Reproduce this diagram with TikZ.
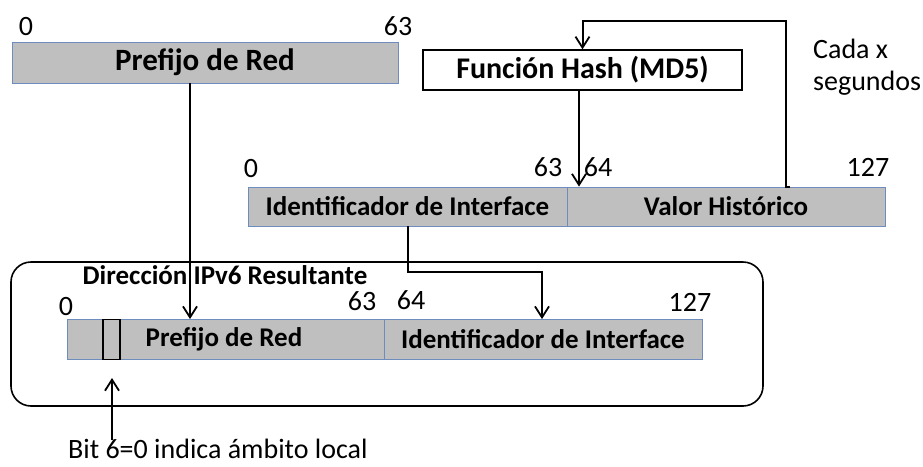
\documentclass[tikz,border=0pt]{standalone}
\usepackage{fontspec}
\setmainfont{Carlito}
\usetikzlibrary{arrows.meta}
\definecolor{bargray}{RGB}{191,191,191}
\definecolor{barblue}{RGB}{110,140,190}
\newcommand\fsTop{\fontsize{31}{36}\selectfont\bfseries}
\newcommand\fsHash{\fontsize{30}{35}\selectfont\bfseries}
\newcommand\fsBar{\fontsize{27}{32}\selectfont\bfseries}
\newcommand\fsTitle{\fontsize{27}{32}\selectfont\bfseries}
\newcommand\fsNum{\fontsize{28}{33}\selectfont}
\begin{document}
\begin{tikzpicture}[x=1pt,y=-1pt,
  bar/.style={draw=barblue, fill=bargray, line width=0.9pt, inner sep=0pt, font=\fsBar},
  hashbox/.style={draw=black, fill=white, line width=1.4pt, inner sep=0pt, font=\fsHash},
  bitbox/.style={draw=black, line width=1.4pt, inner sep=0pt, minimum width=17pt, minimum height=40pt},
  frame/.style={draw=black, line width=1.6pt, rounded corners=20pt},
  num/.style={font=\fsNum, anchor=base, inner sep=0pt},
  lbl/.style={font=\fsNum, anchor=base west, inner sep=0pt},
  arr/.style={draw=black, line width=2pt, -{Straight Barb[length=11pt,width=14pt,line width=1.8pt]}},
  ln/.style={draw=black, line width=2pt}]
\useasboundingbox (0,0) rectangle (923,466);

% result frame
\draw[frame] (11,262) rectangle (763,406);

% top prefix
\node[num] (t0) at (26,35) {0};
\node[num] (t63) at (398,35) {63};
\node[bar, font=\fsTop, minimum width=386pt, minimum height=41pt] (pref) at (205,62.5) {Prefijo de Red};

% hash
\node[hashbox, minimum width=319pt, minimum height=40pt] (hash) at (582.5,70) {Función Hash (MD5)};
\node[lbl] (cada) at (813,58) {Cada x};
\node[lbl] (seg) at (813,90) {segundos};

% middle bar
\node[num] (m0) at (251,177) {0};
\node[num] (m63) at (548,176) {63};
\node[num] (m64) at (598,176) {64};
\node[num] (m127) at (868,176) {127};
\node[bar, minimum width=319pt, minimum height=39pt] (idI) at (407.5,206.5) {Identificador de Interface};
\node[bar, minimum width=318pt, minimum height=39pt] (val) at (726,206.5) {Valor Histórico};

% result
\node[font=\fsTitle, anchor=base, inner sep=0pt] (title) at (225,284) {Dirección IPv6 Resultante};
\node[num] (r0) at (66,315) {0};
\node[num] (r63) at (362,310) {63};
\node[num] (r64) at (411,309) {64};
\node[num] (r127) at (690,311) {127};
\node[bar, minimum width=317pt, minimum height=40pt] (resP) at (225.5,339.5) {\hspace*{-3pt}Prefijo de Red};
\node[bar, minimum width=318pt, minimum height=40pt] (resI) at (543,339.5) {Identificador de Interface};
\node[bitbox] (bit) at (111.5,339.5) {};

% bit label
\node[lbl] (bitlbl) at (68,458) {Bit 6=0 indica ámbito local};

% connectors
\coordinate (a1) at (190,0);
\draw[arr] (pref.south -| a1) -- (resP.north -| a1);
\coordinate (h1) at (579,0);
\draw[arr] (hash.south -| h1) -- (idI.north -| h1);
\coordinate (lp) at (786,21);
\draw[arr] ([xshift=64pt]val.north) -- ([xshift=60pt]val.north) -- (lp) -| (hash.north);
\coordinate (e2) at (542,272);
\draw[arr] (idI.south) |- (e2) -- (resI.north -| e2);
\coordinate (bs) at (112,440);
\coordinate (bt) at (112,378);
\draw[arr] (bs) -- (bt);
\end{tikzpicture}
\end{document}
